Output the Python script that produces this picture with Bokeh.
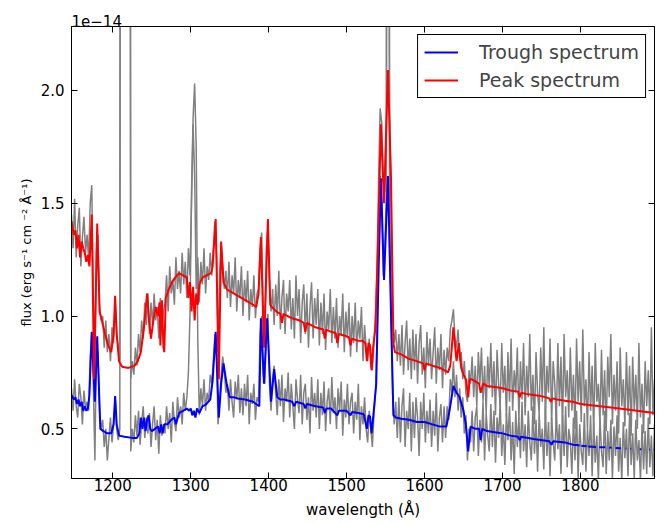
from bokeh.plotting import figure
from bokeh.models import (Range1d, LinearAxis, FixedTicker, Legend, LegendItem,
                          ColumnDataSource, CustomJSTickFormatter)
from bokeh.embed import file_html
from bokeh.resources import INLINE

# ---------------- data (flux in units of 1e-14 erg/s/cm^2/A) ----------------
grid_start = 1147   # first sample wavelength of the observed spectra (A)
grid_step = 2       # sampling step (A)

trough_obs = [
    0.68, 0.58, 0.72, 0.60, 0.55, 0.70, 0.64, 0.52, 0.67, 0.59,
    0.62, 0.58, 0.82, 0.92, 0.70, 0.36, 0.88, 0.83, 0.58, 0.50,
    0.54, 0.42, 0.50, 0.36, 0.46, 0.55, 0.44, 0.52, 0.64, 0.50,
    0.45, 0.50, 10, 10, 10, 10, 10, 10, 0.40, 0.50,
    0.44, 0.56, 0.47, 0.58, 0.43, 0.53, 0.60, 0.46, 0.55, 0.48,
    0.57, 0.42, 0.52, 0.60, 0.45, 0.54, 0.39, 0.56, 0.47, 0.52,
    0.48, 0.60, 0.50, 0.57, 0.44, 0.62, 0.53, 0.49, 0.64, 0.55,
    0.60, 0.52, 0.66, 0.58, 0.64, 0.75, 1.00, 1.55, 1.88, 2.03,
    1.75, 0.90, 0.56, 0.68, 0.60, 0.72, 0.58, 0.66, 0.62, 0.74,
    0.70, 0.80, 0.92, 0.84, 0.52, 0.62, 0.74, 0.82, 0.76, 0.66,
    0.70, 0.58, 0.72, 0.62, 0.55, 0.71, 0.63, 0.74, 0.57, 0.68,
    0.56, 0.70, 0.60, 0.74, 0.52, 0.66, 0.61, 0.70, 0.54, 0.64,
    0.62, 0.92, 1.00, 0.74, 0.70, 0.96, 1.01, 0.70, 0.58, 0.72,
    0.78, 0.66, 0.56, 0.72, 0.60, 0.74, 0.53, 0.68, 0.62, 0.75,
    0.55, 0.70, 0.60, 0.50, 0.72, 0.63, 0.57, 0.74, 0.52, 0.66,
    0.70, 0.54, 0.64, 0.48, 0.73, 0.58, 0.66, 0.55, 0.72, 0.50,
    0.66, 0.56, 0.71, 0.49, 0.62, 0.68, 0.52, 0.73, 0.57, 0.64,
    0.50, 0.68, 0.58, 0.71, 0.47, 0.63, 0.55, 0.70, 0.52, 0.62,
    0.66, 0.48, 0.62, 0.54, 0.70, 0.45, 0.60, 0.52, 0.64, 0.50,
    0.44, 0.58, 0.50, 0.42, 0.56, 0.66, 0.90, 1.30, 1.62, 1.50,
    1.18, 1.28, 1.55, 10, 1.50, 1.00, 0.66, 0.52, 0.62, 0.46,
    0.64, 0.44, 0.60, 0.68, 0.42, 0.58, 0.50, 0.66, 0.40, 0.62,
    0.46, 0.64, 0.55, 0.38, 0.62, 0.50, 0.66, 0.44, 0.58, 0.48,
    0.63, 0.42, 0.58, 0.47, 0.66, 0.40, 0.55, 0.61, 0.44, 0.60,
    0.46, 0.60, 0.54, 0.72, 0.66, 0.80, 0.64, 0.74, 0.58, 0.68,
    0.55, 0.64, 0.48, 0.56, 0.36, 0.50, 0.44, 0.58, 0.40, 0.55,
    0.60, 0.38, 0.54, 0.44, 0.62, 0.36, 0.57, 0.47, 0.40, 0.61,
    0.42, 0.58, 0.35, 0.55, 0.46, 0.62, 0.38, 0.52, 0.34, 0.57,
    0.45, 0.60, 0.36, 0.53, 0.30, 0.58, 0.42, 0.55, 0.37, 0.62,
    0.40, 0.52, 0.33, 0.58, 0.44, 0.36, 0.60, 0.39, 0.54, 0.31,
    0.57, 0.42, 0.50, 0.32, 0.60, 0.38, 0.53, 0.29, 0.55, 0.44,
    0.36, 0.58, 0.41, 0.52, 0.30, 0.56, 0.38, 0.60, 0.33, 0.50,
    0.45, 0.30, 0.55, 0.36, 0.58, 0.28, 0.52, 0.40, 0.34, 0.57,
    0.31, 0.50, 0.38, 0.56, 0.29, 0.53, 0.35, 0.47, 0.27, 0.55,
    0.40, 0.33, 0.58, 0.30, 0.49, 0.36, 0.54, 0.28, 0.51, 0.38,
    0.56, 0.31, 0.46, 0.27, 0.53, 0.37, 0.50, 0.29, 0.57, 0.34,
    0.48, 0.28, 0.54, 0.36, 0.45, 0.27, 0.52, 0.32, 0.49, 0.30,
    0.55, 0.33, 0.47, 0.29, 0.52,
]

peak_obs = [
    1.45, 1.30, 1.52, 1.26, 1.40, 1.48, 1.22, 1.35, 1.44, 1.28,
    1.36, 1.25, 1.50, 1.58, 1.08, 0.80, 1.30, 1.36, 1.05, 0.98,
    1.00, 0.86, 0.98, 0.84, 0.92, 0.80, 0.95, 0.88, 1.06, 0.92,
    0.86, 0.80, 10, 10, 10, 10, 10, 10, 0.72, 0.80,
    0.74, 0.86, 0.78, 0.92, 0.84, 0.98, 0.90, 1.06, 0.96, 1.10,
    0.92, 1.06, 0.96, 1.10, 0.98, 1.04, 0.90, 1.08, 0.94, 1.02,
    1.06, 1.18, 1.02, 1.22, 1.10, 1.16, 1.05, 1.26, 1.12, 1.20,
    1.10, 1.28, 1.14, 1.24, 1.08, 1.30, 1.18, 1.50, 1.85, 1.62,
    1.12, 1.26, 1.06, 1.24, 1.14, 1.30, 1.10, 1.22, 1.16, 1.28,
    1.18, 1.30, 1.42, 1.28, 0.84, 1.18, 1.32, 1.22, 1.12, 1.20,
    1.08, 1.24, 1.04, 1.18, 1.10, 1.26, 1.02, 1.16, 1.08, 1.22,
    1.00, 1.16, 1.06, 1.20, 0.98, 1.12, 1.04, 1.18, 0.99, 1.10,
    1.12, 1.30, 1.37, 1.00, 0.90, 1.30, 1.40, 1.14, 1.02, 1.12,
    0.96, 1.14, 1.00, 1.20, 0.94, 1.08, 1.16, 0.92, 1.10, 1.02,
    1.16, 0.94, 1.08, 0.90, 1.18, 1.00, 1.12, 0.88, 1.06, 1.14,
    0.92, 1.10, 0.86, 1.04, 1.15, 0.90, 1.08, 0.96, 1.12, 0.87,
    1.06, 0.92, 1.10, 0.85, 1.02, 0.94, 1.12, 0.88, 1.04, 0.90,
    1.08, 0.86, 1.00, 0.92, 1.10, 0.84, 1.02, 0.90, 1.06, 0.82,
    1.00, 0.88, 1.06, 0.84, 0.98, 0.90, 1.04, 0.80, 0.96, 0.86,
    0.80, 0.90, 0.78, 0.76, 0.88, 1.00, 1.20, 1.60, 1.92, 1.86,
    1.60, 1.55, 1.90, 10, 1.95, 1.50, 1.00, 0.88, 0.94, 0.80,
    0.92, 0.78, 0.96, 0.74, 0.88, 0.98, 0.76, 0.90, 0.72, 0.94,
    0.76, 0.92, 0.70, 0.88, 0.96, 0.74, 0.86, 0.68, 0.93, 0.78,
    0.90, 0.72, 0.84, 0.95, 0.70, 0.86, 0.76, 0.92, 0.68, 0.85,
    0.74, 0.86, 0.80, 0.94, 0.98, 1.03, 0.90, 0.86, 0.94, 0.80,
    0.84, 0.72, 0.80, 0.66, 0.62, 0.76, 0.70, 0.82, 0.64, 0.78,
    0.60, 0.84, 0.70, 0.86, 0.62, 0.78, 0.57, 0.82, 0.68, 0.88,
    0.64, 0.80, 0.56, 0.85, 0.70, 0.60, 0.88, 0.66, 0.78, 0.55,
    0.84, 0.62, 0.90, 0.58, 0.76, 0.66, 0.86, 0.54, 0.80, 0.63,
    0.88, 0.56, 0.78, 0.64, 0.92, 0.58, 0.74, 0.52, 0.84, 0.66,
    0.57, 0.86, 0.62, 0.95, 0.54, 0.78, 0.66, 0.90, 0.52, 0.80,
    0.70, 0.52, 0.88, 0.60, 0.82, 0.50, 0.92, 0.64, 0.76, 0.55,
    0.86, 0.58, 0.74, 0.50, 0.90, 0.62, 0.80, 0.53, 0.94, 0.60,
    0.72, 0.50, 0.84, 0.58, 0.78, 0.48, 0.88, 0.62, 0.70, 0.52,
    0.85, 0.56, 0.76, 0.49, 0.82, 0.64, 0.92, 0.52, 0.74, 0.58,
    0.80, 0.48, 0.86, 0.60, 0.72, 0.51, 0.84, 0.56, 0.78, 0.47,
    0.82, 0.58, 0.74, 0.50, 0.88, 0.55, 0.70, 0.48, 0.80, 0.60,
    0.76, 0.52, 0.95, 0.56, 0.72,
]

red_wave = [1147, 1150, 1152, 1154, 1156, 1158, 1160, 1162, 1164, 1166, 1168, 1170,
            1173, 1176, 1180, 1183, 1186, 1190, 1194, 1198, 1201, 1203, 1205, 1208,
            1212, 1220, 1228, 1232, 1236, 1240, 1244, 1246, 1249, 1252, 1255, 1258,
            1260, 1261, 1263, 1265, 1266, 1268, 1272, 1276, 1280, 1285, 1290, 1295,
            1297, 1299, 1301, 1303, 1305, 1307, 1309, 1311, 1315, 1320, 1326, 1328,
            1332, 1336, 1339, 1342, 1346, 1350, 1355, 1360, 1365, 1370, 1375, 1380,
            1384, 1387, 1390, 1394, 1399, 1402, 1404, 1410, 1415, 1417, 1419, 1430,
            1440, 1445, 1447, 1449, 1460, 1470, 1472, 1474, 1480, 1486, 1488, 1490,
            1500, 1503, 1505, 1507, 1515, 1520, 1524, 1526, 1528, 1530, 1532, 1534,
            1537, 1540, 1544, 1548, 1553, 1557, 1560, 1562, 1570, 1580, 1590, 1598,
            1600, 1602, 1610, 1620, 1630, 1633, 1637, 1641, 1644, 1647, 1650, 1653,
            1656, 1658, 1660, 1665, 1670, 1672, 1675, 1680, 1690, 1700, 1710, 1720,
            1722, 1724, 1730, 1740, 1750, 1760, 1762, 1764, 1770, 1780, 1790, 1800,
            1850, 1895]
red_flux = [1.42, 1.36, 1.38, 1.30, 1.36, 1.26, 1.33, 1.30, 1.28, 1.24, 1.27, 1.22,
            1.45, 0.72, 1.41, 1.02, 0.98, 0.92, 0.87, 0.84, 0.92, 1.09, 0.92, 0.80,
            0.775, 0.77, 0.78, 0.80, 0.84, 0.95, 1.10, 1.00, 0.90, 0.98, 1.04, 1.00,
            1.06, 0.87, 1.07, 0.86, 0.84, 1.08, 1.12, 1.15, 1.17, 1.19, 1.18, 1.17,
            1.08, 1.15, 1.02, 1.13, 0.98, 1.10, 1.05, 1.14, 1.17, 1.18, 1.19, 1.22,
            1.43, 0.72, 1.33, 1.15, 1.12, 1.11, 1.10, 1.09, 1.08, 1.07, 1.06, 1.05,
            1.04, 1.10, 1.35, 0.86, 1.43, 1.05, 1.04, 1.02, 1.01, 0.97, 1.01, 0.99,
            0.98, 0.97, 0.93, 0.97, 0.95, 0.94, 0.90, 0.94, 0.93, 0.925, 0.88, 0.92,
            0.91, 0.905, 0.87, 0.90, 0.89, 0.89, 0.88, 0.80, 0.88, 0.87, 0.76, 0.86,
            0.95, 1.30, 1.85, 1.50, 2.09, 1.60, 0.88, 0.84, 0.83, 0.81, 0.80, 0.79,
            0.76, 0.79, 0.78, 0.77, 0.75, 0.78, 0.95, 0.80, 0.88, 0.77, 0.74, 0.72,
            0.64, 0.72, 0.72, 0.71, 0.70, 0.66, 0.70, 0.69, 0.685, 0.68, 0.67, 0.665,
            0.64, 0.66, 0.655, 0.65, 0.645, 0.635, 0.62, 0.635, 0.63, 0.625, 0.62, 0.61,
            0.59, 0.57]

nan = float("nan")
blue_wave = [1147, 1150, 1152, 1154, 1156, 1158, 1160, 1162, 1164, 1166, 1168, 1170,
             1173, 1177, 1180, 1184, 1188, 1193, 1198, 1201, 1203, 1205, 1208, 1215,
             1225, 1231, 1234, 1236, 1238, 1240, 1242, 1244, 1246, 1248, 1250, 1254,
             1258, 1260, 1262, 1264, 1266, 1270, 1275, 1279, 1281, 1285, 1290, 1295,
             1298, 1300, 1302, 1304, 1306, 1308, 1311, 1315, 1320, 1325, 1328, 1332,
             1336, 1339, 1342, 1346, 1350, 1355, 1360, 1370, 1380, 1388, 1390, 1394,
             1398, 1403, 1407, 1411, 1415, 1420, 1430, 1433, 1435, 1445, 1447, 1449,
             1460, 1470, 1472, 1474, 1480, 1488, 1490, 1500, 1505, 1507, 1515, 1522,
             1526, 1528, 1530, 1532, 1534, 1538, 1541, 1544, 1548, 1553, 1557, 1560,
             1563, 1570, 1580, 1590, 1600, 1610, 1620, 1628, 1632, 1637, 1641, 1645,
             1650, 1653, 1656, 1659, 1665, 1670, 1672, 1674, 1680, 1690, 1700, 1710,
             1720, 1722, 1724, 1740, 1760, 1763, 1765, 1780, 1790, 1795, 1799, 1800,
             1801, 1808, 1809, 1810, 1820, 1822, 1824, 1832, 1834, 1837, 1840, 1842,
             1845, 1852, 1855, 1858, 1859, 1861, 1864, 1865, 1870, 1876, 1878, 1884,
             1888, 1889, 1892, 1894, 1895]
blue_flux = [0.65, 0.63, 0.64, 0.61, 0.63, 0.60, 0.62, 0.58, 0.60, 0.58, 0.59, 0.65,
             0.93, 0.62, 0.91, 0.50, 0.49, 0.48, 0.48, 0.52, 0.645, 0.52, 0.47, 0.465,
             0.46, 0.46, 0.48, 0.55, 0.50, 0.55, 0.49, 0.54, 0.56, 0.50, 0.49, 0.50,
             0.51, 0.48, 0.52, 0.48, 0.52, 0.52, 0.54, 0.55, 0.52, 0.57, 0.58, 0.59,
             0.58, 0.59, 0.56, 0.58, 0.55, 0.59, 0.57, 0.60, 0.61, 0.63, 0.71, 0.93,
             0.55, 0.70, 0.79, 0.70, 0.64, 0.64, 0.635, 0.63, 0.62, 0.60, 0.99, 0.70,
             0.99, 0.62, 0.765, 0.64, 0.63, 0.63, 0.62, 0.60, 0.62, 0.61, 0.59, 0.61,
             0.60, 0.595, 0.57, 0.59, 0.59, 0.56, 0.58, 0.58, 0.56, 0.575, 0.57, 0.565,
             0.50, 0.56, 0.555, 0.48, 0.55, 0.70, 1.20, 1.61, 1.16, 1.62, 1.00, 0.56,
             0.55, 0.545, 0.54, 0.53, 0.53, 0.52, 0.51, 0.51, 0.58, 0.69, 0.66, 0.64,
             0.58, 0.52, 0.40, 0.51, 0.50, 0.50, 0.45, 0.50, 0.49, 0.485, 0.48, 0.47,
             0.465, 0.45, 0.465, 0.455, 0.445, 0.43, 0.445, 0.44, 0.43, 0.428, 0.426, nan,
             0.425, 0.423, nan, 0.422, 0.42, nan, 0.419, 0.418, nan, 0.417, 0.416, nan,
             0.415, 0.414, nan, 0.413, 0.413, nan, 0.412, 0.412, nan, 0.41, 0.41, nan,
             0.408, 0.408, nan, 0.407, 0.407]

x_ticks = [1200, 1300, 1400, 1500, 1600, 1700, 1800]
y_ticks = [0.5, 1.0, 1.5, 2.0]
y_tick_labels = ["0.5", "1.0", "1.5", "2.0"]
x_min, x_max = 1147, 1895
y_min, y_max = 0.28, 2.283

# ---------------- figure ----------------
FONT = "DejaVu Sans"
p = figure(width=658, height=523, output_backend="svg", toolbar_location=None,
           x_range=Range1d(x_min, x_max), y_range=Range1d(y_min, y_max),
           min_border_left=71, min_border_right=4, min_border_top=26,
           min_border_bottom=45, background_fill_color="white",
           border_fill_color="white", title="1e\u221214")
p.grid.visible = False
p.outline_line_color = "black"
p.outline_line_width = 1

p.title.align = "left"
p.title.text_font = FONT
p.title.text_font_size = "15px"
p.title.text_font_style = "normal"
p.title.text_color = "black"
p.title.standoff = 0
p.title.offset = 0

grid_wave = [grid_start + grid_step * i for i in range(len(trough_obs))]
src_obs = ColumnDataSource(dict(w=grid_wave, t=trough_obs, pk=peak_obs))
p.line("w", "pk", source=src_obs, line_color="#808080", line_width=1.5)
p.line("w", "t", source=src_obs, line_color="#808080", line_width=1.5)
blue_r = p.line(blue_wave, blue_flux, line_color="#0000ff", line_width=2)
red_r = p.line(red_wave, red_flux, line_color="#ff0000", line_width=2)

# axes styling
for ax in (p.xaxis[0], p.yaxis[0]):
    ax.major_tick_in = 6
    ax.major_tick_out = 0
    ax.minor_tick_line_color = None
    ax.axis_line_color = "black"
    ax.major_tick_line_color = "black"
    ax.major_label_text_font = FONT
    ax.major_label_text_font_size = "15px"
    ax.major_label_text_color = "black"
    ax.axis_label_text_font = FONT
    ax.axis_label_text_font_style = "normal"
    ax.axis_label_text_color = "black"

p.xaxis[0].ticker = FixedTicker(ticks=x_ticks)
p.yaxis[0].ticker = FixedTicker(ticks=y_ticks)
p.yaxis[0].major_label_overrides = dict(zip(y_ticks, y_tick_labels))
p.xaxis[0].major_label_standoff = 0
p.xaxis[0].axis_label = "wavelength (Å)"
p.xaxis[0].axis_label_text_font_size = "15px"
p.xaxis[0].axis_label_standoff = 7
p.yaxis[0].major_label_standoff = 7
p.yaxis[0].axis_label = "flux (erg s⁻¹ cm ⁻² Å⁻¹)"
p.yaxis[0].axis_label_text_font_size = "13px"
p.yaxis[0].axis_label_standoff = 4

blank = CustomJSTickFormatter(code="return ''")
top_ax = LinearAxis(ticker=FixedTicker(ticks=x_ticks), formatter=blank)
right_ax = LinearAxis(ticker=FixedTicker(ticks=y_ticks), formatter=blank)
for ax in (top_ax, right_ax):
    ax.major_tick_in = 6
    ax.major_tick_out = 0
    ax.minor_tick_line_color = None
    ax.major_label_standoff = 0
    ax.axis_line_color = "black"
p.add_layout(top_ax, "above")
p.add_layout(right_ax, "right")

legend = Legend(items=[LegendItem(label="Trough spectrum", renderers=[blue_r]),
                       LegendItem(label="Peak spectrum", renderers=[red_r])],
                location="top_right", label_text_font=FONT,
                label_text_font_size="19px", border_line_color="black",
                border_line_width=1, border_line_alpha=1,
                background_fill_color="white", background_fill_alpha=1,
                padding=6, spacing=6, glyph_width=34, glyph_height=22,
                label_height=22, label_standoff=21, margin=8)
p.add_layout(legend)

open("out.html", "w").write(file_html(p, INLINE))
